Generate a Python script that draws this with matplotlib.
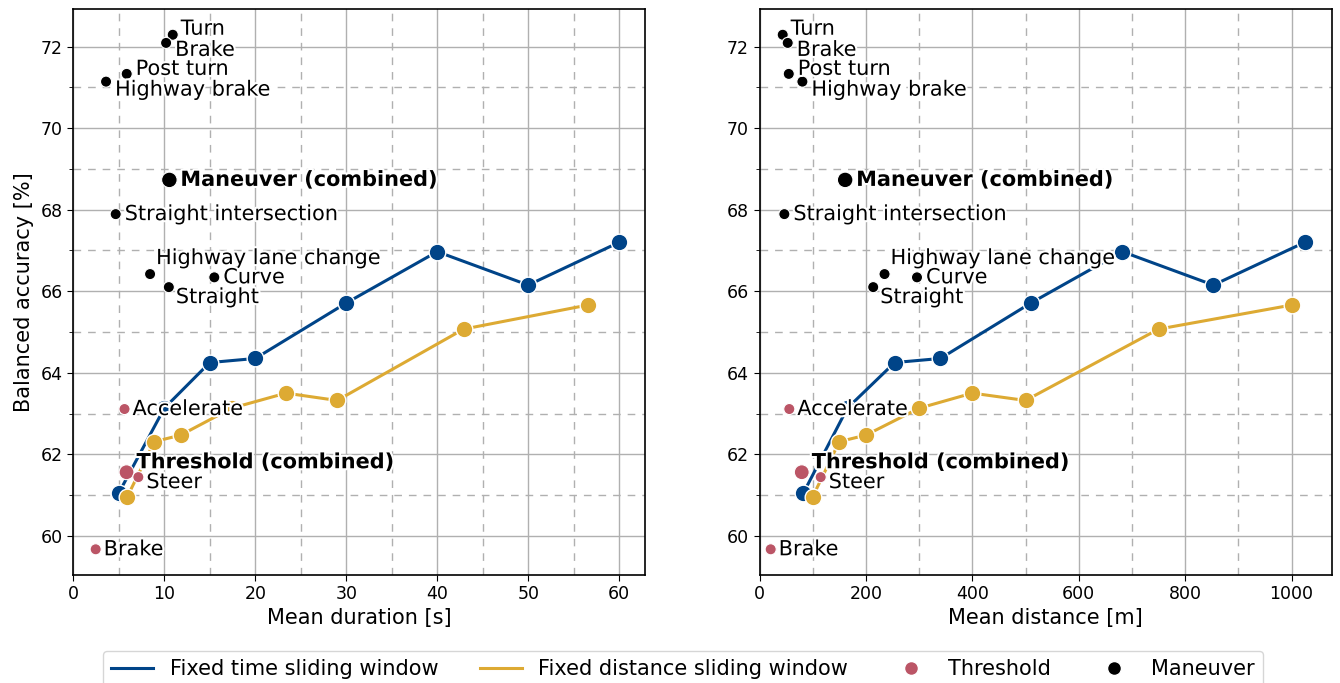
import matplotlib
matplotlib.use("Agg")
import matplotlib.pyplot as plt
import matplotlib.patheffects as pe
from matplotlib.lines import Line2D
from matplotlib.ticker import MultipleLocator

# fixed time sliding window: nominal length [s], mean distance [m], accuracy [%]
time_win_s = [5, 10, 15, 20, 30, 40, 50, 60]
time_win_dist = [82.5, 165, 254, 340, 510, 682, 853, 1025]
time_win_acc = [61.05, 63.13, 64.25, 64.35, 65.71, 66.97, 66.15, 67.20]

# fixed distance sliding window: mean duration [s], nominal length [m], accuracy [%]
dist_win_dur = [5.94, 8.91, 11.8, 17.4, 23.37, 29.0, 42.9, 56.55]
dist_win_m = [100, 150, 200, 300, 400, 500, 750, 1000]
dist_win_acc = [60.96, 62.31, 62.47, 63.13, 63.50, 63.32, 65.07, 65.66]

# threshold based segmentation
thr_names = ["Accelerate", "Threshold (combined)", "Steer", "Brake"]
thr_dur = [5.63, 5.85, 7.15, 2.46]
thr_dist = [56, 79.4, 115, 21]
thr_acc = [63.11, 61.56, 61.44, 59.67]

# maneuver based segmentation
man_names = ["Turn", "Brake", "Post turn", "Highway brake", "Maneuver (combined)",
             "Straight intersection", "Highway lane change", "Curve", "Straight"]
man_dur = [10.93, 10.2, 5.87, 3.6, 10.56, 4.66, 8.44, 15.5, 10.5]
man_dist = [43.6, 53, 55, 80.6, 161, 46.7, 235, 296, 213.7]
man_acc = [72.29, 72.09, 71.33, 71.14, 68.73, 67.89, 66.42, 66.34, 66.10]

BLUE = "#004488"
YELLOW = "#DDAA33"
RED = "#BB5566"
FS = 15

# label offsets in pixels (dx, dy), dy positive = downwards
thr_offsets = [(8, 0), (10, -10), (8, 5), (8, 0)]
man_offsets = [(8, -6), (9, 7), (9, -5), (9, 8), (11, 0), (9, 0), (6, -16), (9, 0), (7, 10)]

fig = plt.figure(figsize=(13.4, 6.83), dpi=100)
ax_dur = fig.add_axes([0.0547, 0.1581, 0.4269, 0.8287])
ax_dist = fig.add_axes([0.5668, 0.1581, 0.4269, 0.8287])

halo = [pe.withStroke(linewidth=3, foreground="white")]


def draw_panel(ax, x_time, x_dist, x_thr, x_man):
    ax.plot(x_time, time_win_acc, color=BLUE, lw=2.2, marker="o", ms=12,
            mec="white", mew=1, zorder=3)
    ax.plot(x_dist, dist_win_acc, color=YELLOW, lw=2.2, marker="o", ms=12,
            mec="white", mew=1, zorder=3)
    sizes = [115 if "combined" in n else 64 for n in thr_names]
    ax.scatter(x_thr, thr_acc, s=sizes, color=RED, edgecolor="white", lw=0.8, zorder=4)
    sizes = [125 if "combined" in n else 64 for n in man_names]
    ax.scatter(x_man, man_acc, s=sizes, color="black", edgecolor="white", lw=0.8, zorder=4)

    for names, xs, ys, offs in [(thr_names, x_thr, thr_acc, thr_offsets),
                                (man_names, x_man, man_acc, man_offsets)]:
        for n, x, y, (dx, dy) in zip(names, xs, ys, offs):
            ax.annotate(n, (x, y), xytext=(dx, -dy), textcoords="offset pixels",
                        ha="left", va="center", fontsize=FS,
                        fontweight="bold" if "combined" in n else "normal",
                        path_effects=halo, zorder=5)

    ax.set_xlim(left=0)
    ax.yaxis.set_major_locator(MultipleLocator(2))
    ax.yaxis.set_minor_locator(MultipleLocator(1))
    ax.grid(which="major", color="#b0b0b0", lw=1)
    ax.grid(which="minor", color="#b0b0b0", lw=1, ls=(0, (5.5, 5)))
    ax.tick_params(which="major", labelsize=12.5, length=4)
    ax.tick_params(axis="x", which="minor", length=0)
    ax.tick_params(axis="y", which="minor", length=3)
    ax.set_axisbelow(True)
    for sp in ax.spines.values():
        sp.set_linewidth(1.2)


draw_panel(ax_dur, time_win_s, dist_win_dur, thr_dur, man_dur)
draw_panel(ax_dist, time_win_dist, dist_win_m, thr_dist, man_dist)

ax_dur.xaxis.set_major_locator(MultipleLocator(10))
ax_dur.xaxis.set_minor_locator(MultipleLocator(5))
ax_dist.xaxis.set_major_locator(MultipleLocator(200))
ax_dist.xaxis.set_minor_locator(MultipleLocator(100))

ax_dur.set_xlabel("Mean duration [s]", fontsize=FS, labelpad=3)
ax_dist.set_xlabel("Mean distance [m]", fontsize=FS, labelpad=3)
ax_dur.set_ylabel("Balanced accuracy [%]", fontsize=FS, labelpad=5)

handles = [
    Line2D([], [], color=BLUE, lw=2.2),
    Line2D([], [], color=YELLOW, lw=2.2),
    Line2D([], [], color=RED, marker="o", ls="", ms=10, mec="white"),
    Line2D([], [], color="black", marker="o", ls="", ms=10, mec="white"),
]
labels = ["Fixed time sliding window", "Fixed distance sliding window", "Threshold", "Maneuver"]
fig.legend(handles, labels, loc="lower center", bbox_to_anchor=(0.5097, -0.022), ncol=4,
           fontsize=FS, frameon=True)

fig.savefig("out.png", dpi=100)
